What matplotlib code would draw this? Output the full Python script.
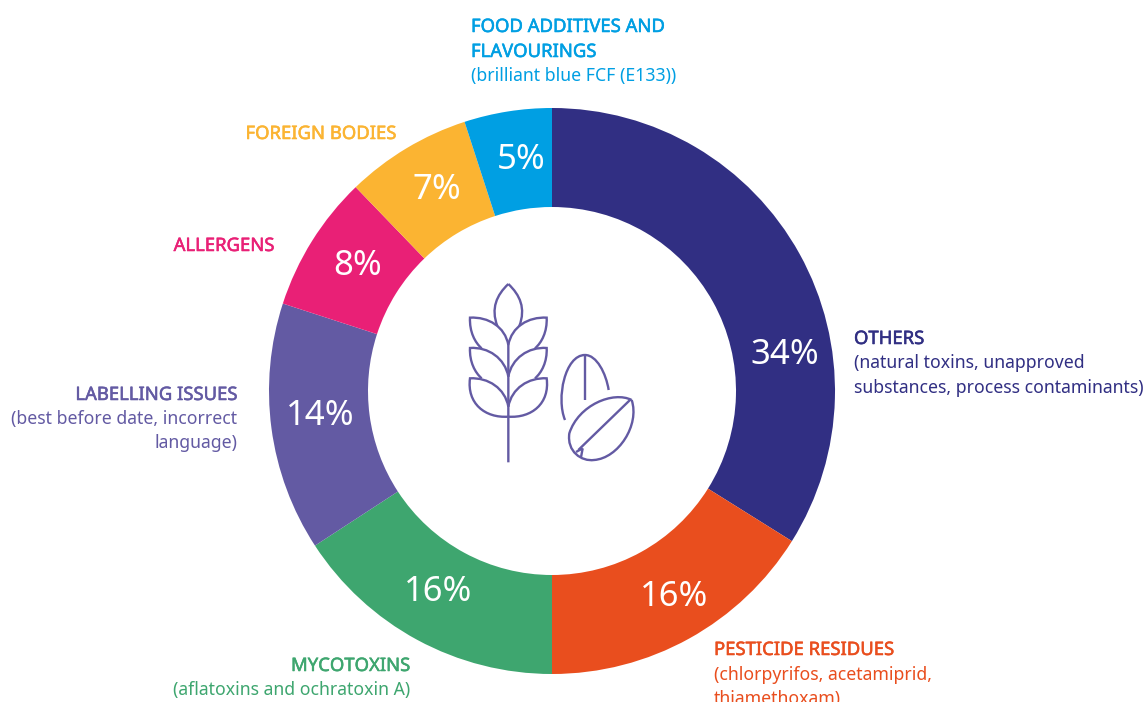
import matplotlib
matplotlib.use('Agg')
import matplotlib.pyplot as plt
import matplotlib.patheffects as pe
from matplotlib.path import Path
from matplotlib.patches import PathPatch

# share of notifications per category, clockwise from the top
categories = ['OTHERS', 'PESTICIDE RESIDUES', 'MYCOTOXINS', 'LABELLING ISSUES',
              'ALLERGENS', 'FOREIGN BODIES', 'FOOD ADDITIVES AND']
values = [33.9, 16.1, 15.8, 14.2, 7.8, 7.2, 5.0]
colors = ['#312F83', '#E94E1E', '#3EA66F', '#635AA3', '#E92076', '#FBB432', '#009FE3']

H = 702
FONT = 'Noto Sans'

fig = plt.figure(figsize=(11.46, 7.02), dpi=100)
ax = fig.add_axes([0, 0, 1, 1])

# the pie, in pixel units
ax.pie(values, colors=colors, startangle=90, counterclock=False,
       center=(552, H - 391), radius=283, wedgeprops=dict(width=99))
ax.set_xlim(0, 1146)
ax.set_ylim(0, H)
ax.set_aspect('equal')
ax.axis('off')

# percent labels sit by hand, not on the wedge middle
pct_xy = [(785, 355), (674, 597), (438, 592), (320, 416), (358, 266), (437, 190), (521, 160)]
for v, (x, y) in zip(values, pct_xy):
    ax.text(x, H - y, '%.0f%%' % v, color='white', fontsize=25, family=FONT,
            ha='center', va='center')


def label(x, y, text, color, ha='left', bold=False):
    t = ax.text(x, H - y, text, color=color, ha=ha, va='baseline', family=FONT,
                fontsize=13.3 if bold else 12.7)
    if bold:
        # no medium weight installed, so thicken the regular a bit
        t.set_path_effects([pe.withStroke(linewidth=0.4, foreground=color)])


# category labels
label(854, 344, categories[0], colors[0], bold=True)
label(854, 368, '(natural toxins, unapproved', colors[0])
label(854, 393, 'substances, process contaminants)', colors[0])

label(714, 655, categories[1], colors[1], bold=True)
label(714, 680, '(chlorpyrifos, acetamiprid,', colors[1])
label(714, 704, 'thiamethoxam)', colors[1])

label(410, 671, categories[2], colors[2], ha='right', bold=True)
label(410, 695, '(aflatoxins and ochratoxin A)', colors[2], ha='right')

label(237, 400, categories[3], colors[3], ha='right', bold=True)
label(237, 424, '(best before date, incorrect', colors[3], ha='right')
label(237, 448, 'language)', colors[3], ha='right')

label(274, 251, categories[4], colors[4], ha='right', bold=True)
label(396, 139, categories[5], colors[5], ha='right', bold=True)

label(471, 32, categories[6], colors[6], bold=True)
label(471, 57, 'FLAVOURINGS', colors[6], bold=True)
label(471, 81, '(brilliant blue FCF (E133))', colors[6])


# wheat and seeds icon, traced in the 3x zoom coordinates
def curve(*pts):
    # first point then triples of bezier points
    verts = [(450 + px / 3, H - (270 + py / 3)) for px, py in pts]
    codes = [Path.MOVETO] + [Path.CURVE4] * (len(pts) - 1)
    ax.add_patch(PathPatch(Path(verts, codes), fc='none', ec='#635AA3', lw=1.7))


def line(a, b):
    curve(a, a, b, b)


def mirror(p):
    return (350 - p[0], p[1])


line((175, 225), (175, 577))
curve((142, 168), (122, 115), (140, 75), (175, 42))
curve((208, 168), (228, 115), (210, 75), (175, 42))

leaves = [
    [(175, 225), (165, 170), (115, 140), (60, 143), (58, 185), (75, 218), (95, 235)],
    [(175, 320), (165, 265), (115, 230), (60, 234), (58, 275), (75, 308), (95, 325)],
    [(175, 410), (165, 355), (115, 322), (60, 325), (50, 400), (105, 445), (175, 440)],
]
for leaf in leaves:
    curve(*leaf)
    curve(*[mirror(p) for p in leaf])

# back seed
curve((345, 450), (318, 385), (345, 255), (405, 255), (440, 255), (468, 310), (476, 360))
line((405, 255), (405, 390))

# front seed
curve((545, 390), (490, 362), (385, 405), (358, 490),
      (350, 545), (395, 575), (432, 570), (505, 565), (570, 465), (545, 390))
line((540, 390), (385, 540))
line((398, 535), (393, 562))
line((378, 546), (398, 535))

fig.savefig('out.png', dpi=100)
